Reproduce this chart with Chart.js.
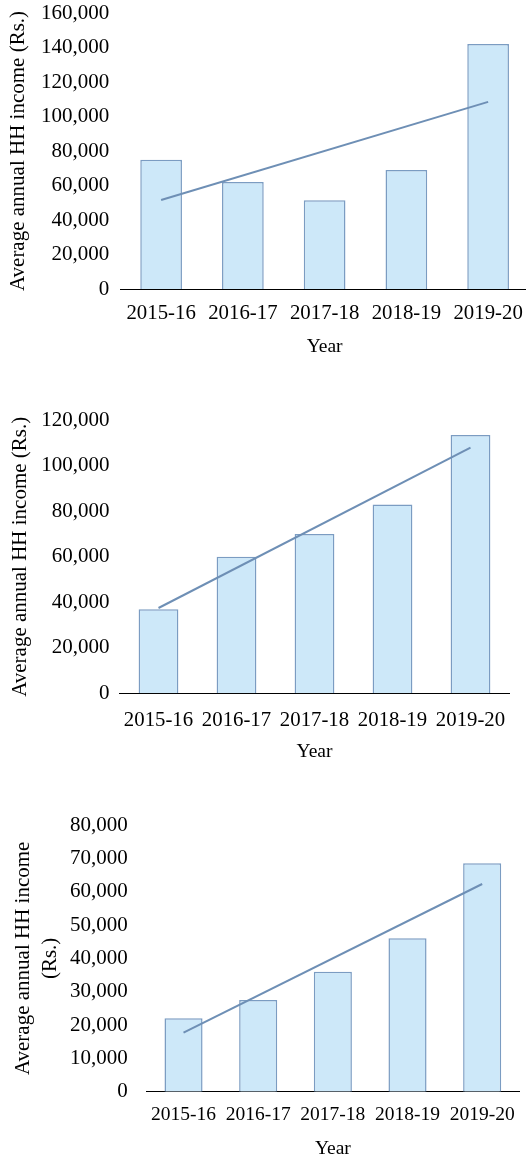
<!DOCTYPE html>
<html>
<head>
<meta charset="utf-8">
<script src="https://cdn.jsdelivr.net/npm/chart.js@4/dist/chart.umd.min.js"></script>
<style>
  html, body { margin: 0; padding: 0; background: #fff; overflow: hidden; width: 526px; height: 1161px; }
  .wrap { position: absolute; left: 0; }
  canvas { display: block; }
  .fontprobe { position: absolute; left: -9999px; top: 0; font-family: "Liberation Serif"; font-size: 20px; }
</style>
</head>
<body>
<div class="fontprobe">Average 0123456789 Year</div>
<div class="wrap" style="top:0px"><canvas id="c1" width="532" height="365"></canvas></div>
<div class="wrap" style="top:380px"><canvas id="c2" width="526" height="390"></canvas></div>
<div class="wrap" style="top:790px"><canvas id="c3" width="526" height="371"></canvas></div>
<script>
// ---- Data ----
const categories = ['2015-16', '2016-17', '2017-18', '2018-19', '2019-20'];

const income1 = [75000, 62000, 51500, 69000, 142000];
const trend1  = [51600, null, null, null, 108500];
const yMax1 = 160000, yStep1 = 20000;

const income2 = [37000, 60000, 70000, 83000, 113500];
const trend2  = [37500, null, null, null, 108000];
const yMax2 = 120000, yStep2 = 20000;

const income3 = [22000, 27500, 36000, 46000, 68500];
const trend3  = [17700, null, null, null, 62300];
const yMax3 = 80000, yStep3 = 10000;

const yTitle1 = 'Average annual HH income (Rs.)';
const yTitle2 = 'Average annual HH income (Rs.)';
const yTitle3 = ['Average annual HH income', '(Rs.)'];
const xTitle = 'Year';

// ---- Styles ----
const FONT = '"Liberation Serif", "DejaVu Serif", serif';
const BAR_FILL = '#cde8f9';
const BAR_BORDER = '#7b9cc2';
const TREND = '#6e8fb5';

function makeChart(id, values, trend, yMax, yStep, yTitle, L) {
  return new Chart(document.getElementById(id), {
    type: 'bar',
    data: {
      labels: categories,
      datasets: [
        {
          type: 'line', data: trend, borderColor: TREND, borderWidth: 2,
          pointRadius: 0, spanGaps: true, fill: false, order: 0, tension: 0
        },
        {
          type: 'bar', data: values, backgroundColor: BAR_FILL, borderColor: BAR_BORDER,
          borderWidth: 1.5, categoryPercentage: 1, barPercentage: L.barPct, order: 1
        }
      ]
    },
    options: {
      responsive: false, animation: false, devicePixelRatio: 1,
      layout: { padding: { top: L.top, right: L.right, left: 0, bottom: 0 } },
      plugins: { legend: { display: false }, tooltip: { enabled: false } },
      scales: {
        x: {
          grid: { display: false, drawTicks: false },
          border: { display: true, color: '#000', width: 1 },
          ticks: { color: '#000', padding: L.xPad, maxRotation: 0, autoSkip: false,
                   font: { family: FONT, size: L.xTickSize } },
          title: { display: true, text: xTitle, color: '#000',
                   font: { family: FONT, size: 19.5, lineHeight: 1.2 },
                   padding: { top: 0, bottom: L.xTitlePad } },
          afterFit: s => { s.height = L.xHeight; s.paddingLeft = 0; s.paddingRight = 0; }
        },
        y: {
          min: 0, max: yMax,
          grid: { display: false, drawTicks: false },
          border: { display: false },
          ticks: { stepSize: yStep, color: '#000', padding: L.yPad,
                   font: { family: FONT, size: 21 },
                   callback: v => v.toLocaleString('en-US') },
          title: { display: true, text: yTitle, color: '#000',
                   font: { family: FONT, size: 21, lineHeight: L.yLH },
                   padding: { top: L.yTitlePad, bottom: 0 } },
          afterFit: s => { s.width = L.yWidth; s.paddingTop = 0; s.paddingBottom = 0; }
        }
      }
    }
  });
}

function drawAll() {
  makeChart('c1', income1, trend1, yMax1, yStep1, yTitle1,
    { top: 13, right: 3, xHeight: 76, yWidth: 120.25, barPct: 0.51, xPad: 12, xTickSize: 20.8,
      xTitlePad: 6.3, yPad: 11, yLH: 1.2, yTitlePad: 5.4 });
  makeChart('c2', income2, trend2, yMax2, yStep2, yTitle2,
    { top: 40.3, right: 16.5, xHeight: 76.7, yWidth: 119.5, barPct: 0.51, xPad: 14.5, xTickSize: 20.8,
      xTitlePad: 6.3, yPad: 10, yLH: 1.2, yTitlePad: 7.4 });
  makeChart('c3', income3, trend3, yMax3, yStep3, yTitle3,
    { top: 35, right: 6.5, xHeight: 69.3, yWidth: 146.2, barPct: 0.51, xPad: 11, xTickSize: 19.5,
      xTitlePad: 0, yPad: 18.5, yLH: 1.27, yTitlePad: 10 });
}

if (document.fonts && document.fonts.load) {
  document.fonts.load('20px "Liberation Serif"').then(drawAll, drawAll);
} else {
  drawAll();
}
</script>
</body>
</html>
